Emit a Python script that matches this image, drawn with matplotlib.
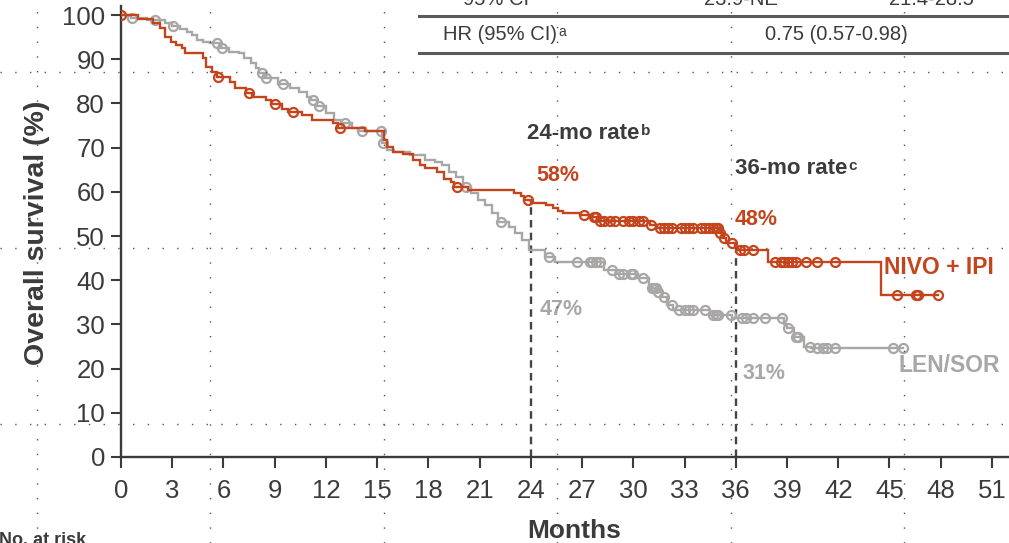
import matplotlib
matplotlib.use('Agg')
import matplotlib.pyplot as plt
from matplotlib.lines import Line2D
import numpy as np

plt.rcParams['font.family'] = ['Liberation Sans', 'DejaVu Sans']

# ---------------- data ----------------
x_ticks = list(range(0, 52, 3))
y_ticks = list(range(0, 101, 10))

nivo_t = [0, 1.0, 1.9, 2.3, 2.6, 2.9, 3.2, 3.55, 3.75, 4.8, 5.0, 5.3, 5.6, 6.4, 6.7, 7.3, 7.7,
          8.5, 8.8, 9.4, 9.8, 10.6, 11.2, 12.4, 12.7, 14.3, 15.4, 15.55, 15.95, 16.5, 17.1,
          17.5, 17.8, 18.5, 18.9, 19.3, 19.5, 20.3, 23.0, 23.4, 23.6, 24.0, 24.9, 25.3, 25.6,
          25.9, 26.9, 27.6, 27.9, 31.0, 31.4, 35.05, 35.25, 35.45, 35.95, 36.15, 37.9, 44.5]
nivo_s = [100, 99.2, 98.3, 97.0, 95.1, 94.0, 93.2, 92.5, 91.3, 90.2, 88.3, 87.2, 86.0, 84.9, 83.4,
          82.3, 81.5, 80.8, 79.9, 78.8, 78.1, 77.4, 76.2, 75.5, 74.5, 73.7, 71.7, 70.2, 69.1,
          68.5, 67.2, 66.1, 65.3, 64.5, 63.0, 62.3, 61.2, 60.4, 59.7, 59.0, 58.1, 57.4, 57.0,
          56.3, 55.7, 55.1, 54.7, 54.2, 53.5, 52.6, 51.9, 50.6, 49.5, 48.4, 47.6, 46.8, 44.2, 36.7]
nivo_end = 47.83
nivo_cens = [0, 5.7, 7.5, 9.0, 10.1, 12.8, 19.7, 23.84, 27.14, 27.7, 27.82, 28.04, 28.27, 28.61,
             28.95, 29.41, 29.75, 29.98, 30.32, 30.54, 31.05, 31.57, 31.8, 32.03, 32.25, 32.82,
             33.05, 33.27, 33.5, 33.96, 34.19, 34.41, 34.64, 34.87, 34.98, 35.09, 35.32, 35.77,
             36.23, 36.46, 37.03, 38.28, 38.62, 38.85, 39.07, 39.3, 39.53, 40.1, 40.78, 41.8,
             45.44, 46.57, 46.69, 47.83]

len_t = [0, 0.6, 1.5, 2.6, 3.0, 3.45, 3.85, 4.15, 4.45, 4.8, 5.2, 5.8, 6.3, 6.9, 7.2, 7.6, 7.9,
         8.1, 8.4, 9.2, 9.9, 10.4, 10.9, 11.1, 11.5, 12.0, 12.5, 12.9, 13.5, 13.9, 15.3, 15.6,
         16.0, 16.9, 17.8, 18.4, 18.8, 19.2, 19.6, 20.0, 20.5, 20.9, 21.3, 21.7, 22.1, 22.7,
         23.1, 23.5, 23.9, 24.8, 25.4, 28.3, 29.0, 30.3, 30.9, 31.1, 31.4, 31.7, 32.0, 32.3,
         34.5, 35.8, 38.8, 39.0, 39.4, 40.0, 40.4]
len_s = [100, 99.3, 98.9, 98.3, 97.5, 96.8, 96.2, 95.5, 94.3, 94.0, 93.6, 92.6, 91.7, 91.3, 90.2,
         89.1, 88.0, 86.8, 85.7, 84.5, 83.4, 82.6, 81.5, 80.8, 79.4, 77.8, 76.2, 75.5, 74.4,
         73.8, 71.0, 69.5, 69.1, 68.3, 67.2, 66.8, 66.1, 64.5, 63.4, 61.2, 59.7, 58.1, 57.0,
         55.1, 53.2, 52.1, 50.6, 49.1, 46.8, 45.3, 44.2, 42.3, 41.5, 40.4, 38.9, 38.2, 37.4,
         36.3, 34.4, 33.3, 32.1, 31.4, 30.2, 29.1, 27.1, 25.0, 24.6]
len_end = 45.8
len_cens = [0.66, 2.0, 3.06, 5.6, 5.9, 8.24, 8.5, 9.5, 11.26, 11.6, 13.1, 14.1, 15.2, 15.36, 20.2,
            22.25, 25.09, 26.68, 27.48, 27.59, 27.82, 28.05, 28.73, 29.18, 29.41, 29.86, 29.98,
            30.54, 31.11, 31.22, 31.33, 31.45, 31.79, 32.25, 32.7, 33.05, 33.27, 33.5, 34.19,
            34.64, 34.87, 34.98, 35.7, 36.34, 36.57, 37.03, 37.71, 38.73, 39.07, 39.53, 39.64,
            40.32, 40.78, 41.12, 41.35, 41.8, 45.2, 45.8]

rate24_nivo, rate24_len = "58%", "47%"
rate36_nivo, rate36_len = "48%", "31%"
hr_text = "0.75 (0.57-0.98)"

# ---------------- style ----------------
RED = '#c4451d'
GREY = '#a9a6a6'
DARK = '#3b3b3b'

W, H = 1009, 543
fig = plt.figure(figsize=(W / 100, H / 100), dpi=100)


def fx(px):
    return px / W


def fy(py):
    return 1 - py / H


ax = fig.add_axes([fx(121), fy(457), (W - 121) / W, (457 - 6.2) / H])
ax.set_xlim(0, 52)
ax.set_ylim(0, 102)

for s in ['top', 'right']:
    ax.spines[s].set_visible(False)
for s in ['left', 'bottom']:
    ax.spines[s].set_color(DARK)
    ax.spines[s].set_linewidth(1.7)

ax.set_xticks(x_ticks)
ax.set_yticks(y_ticks)
ax.tick_params(axis='x', direction='out', length=8, width=1.5, color=DARK,
               labelsize=18.5, labelcolor=DARK, pad=8)
ax.tick_params(axis='y', direction='out', length=7.5, width=1.5, color=DARK,
               labelsize=18.5, labelcolor=DARK, pad=4)
ax.patch.set_alpha(0)


def surv_at(tt, ss, c):
    i = np.searchsorted(tt, c, side='right') - 1
    return ss[max(i, 0)]


def draw_arm(tt, ss, end, cens, color, z):
    xs = list(tt) + [end]
    ys = list(ss) + [ss[-1]]
    ax.step(xs, ys, where='post', color=color, lw=1.7, zorder=z, solid_joinstyle='miter')
    cy = [surv_at(tt, ss, c) for c in cens]
    ax.plot(cens, cy, linestyle='none', marker='o', markersize=6.5, mfc='none',
            mec=color, mew=1.6, zorder=z + 0.1)


draw_arm(len_t, len_s, len_end, len_cens, GREY, 3)
draw_arm(nivo_t, nivo_s, nivo_end, nivo_cens, RED, 4)

# dashed reference lines
ax.plot([24, 24], [0, surv_at(nivo_t, nivo_s, 23.9)], color='#444444', lw=1.7,
        dashes=(3.2, 2.2), zorder=2)
ax.plot([36, 36], [0, 47.6], color='#444444', lw=1.7, dashes=(3.2, 2.2), zorder=2)

fig.canvas.draw()
renderer = fig.canvas.get_renderer()


def text_sup(obj, main, sup, x, y, transform, size, color, weight, sup_size):
    t = obj.text(x, y, main, transform=transform, fontsize=size, color=color,
                 fontweight=weight, ha='left', va='center')
    bb = t.get_window_extent(renderer)
    fig.text((bb.x1 + 1) / W, (bb.y1 - 1) / H, sup,
             fontsize=sup_size, color=color, fontweight=weight, ha='left', va='top')
    return t


# annotations
text_sup(ax, "24-mo rate", "b", 23.8, 73.3, ax.transData, 16, DARK, 'bold', 11)
text_sup(ax, "36-mo rate", "c", 35.95, 65.2, ax.transData, 16, DARK, 'bold', 11)
ax.text(24.3, 63.8, rate24_nivo, color=RED, fontsize=15.5, fontweight='bold', ha='left', va='center')
ax.text(35.95, 53.8, rate36_nivo, color=RED, fontsize=15.5, fontweight='bold', ha='left', va='center')
ax.text(24.5, 33.3, rate24_len, color=GREY, fontsize=15.5, fontweight='bold', ha='left', va='center')
ax.text(36.4, 18.8, rate36_len, color=GREY, fontsize=15.5, fontweight='bold', ha='left', va='center')
ax.text(44.7, 42.8, "NIVO + IPI", color=RED, fontsize=16.5, fontweight='bold', ha='left', va='center')
ax.text(45.55, 20.6, "LEN/SOR", color=GREY, fontsize=16.5, fontweight='bold', ha='left', va='center')

# axis labels
fig.text(fx(574), fy(531), "Months", fontsize=19, fontweight='bold', color=DARK,
         ha='center', va='center')
fig.text(fx(37), fy(233), "Overall survival (%)", fontsize=20.5, fontweight='bold', color=DARK,
         ha='center', va='center', rotation=90)
fig.text(fx(-1), fy(545), "No. at risk", fontsize=13, fontweight='bold', color=DARK,
         ha='left', va='baseline')

# table fragment at the top
for yy in (16, 53):
    fig.add_artist(Line2D([fx(419), 1.0], [fy(yy), fy(yy)], transform=fig.transFigure,
                          color='#5a5a5a', lw=2.2))
fig.text(fx(463), fy(5), "95% CI", fontsize=14.5, color=DARK, ha='left', va='baseline')
fig.text(fx(741), fy(5), "23.9-NE", fontsize=14.5, color=DARK, ha='center', va='baseline')
fig.text(fx(931), fy(5), "21.4-28.5", fontsize=14.5, color=DARK, ha='center', va='baseline')
hr = fig.text(fx(443), fy(39.5), "HR (95% CI)", fontsize=14.5, color=DARK, ha='left', va='baseline')
bbh = hr.get_window_extent(renderer)
fig.text((bbh.x1 + 1) / W, (bbh.y1 - 1) / H, "a", fontsize=10, color=DARK, ha='left', va='top')
fig.text(fx(836), fy(39.5), hr_text, fontsize=14.5, color=DARK, ha='center', va='baseline')

# slide guide dots
for gx in (37, 210, 384, 557, 731, 904):
    fig.add_artist(Line2D([fx(gx), fx(gx)], [0, 1], transform=fig.transFigure,
                          color='#555555', lw=1.0, linestyle=(0, (1.0, 9.6)), zorder=1))
for gy in (72, 248, 424):
    fig.add_artist(Line2D([0, 1], [fy(gy), fy(gy)], transform=fig.transFigure,
                          color='#555555', lw=1.0, linestyle=(0, (1.0, 9.6)), zorder=1))

fig.savefig('out.png', dpi=100)
